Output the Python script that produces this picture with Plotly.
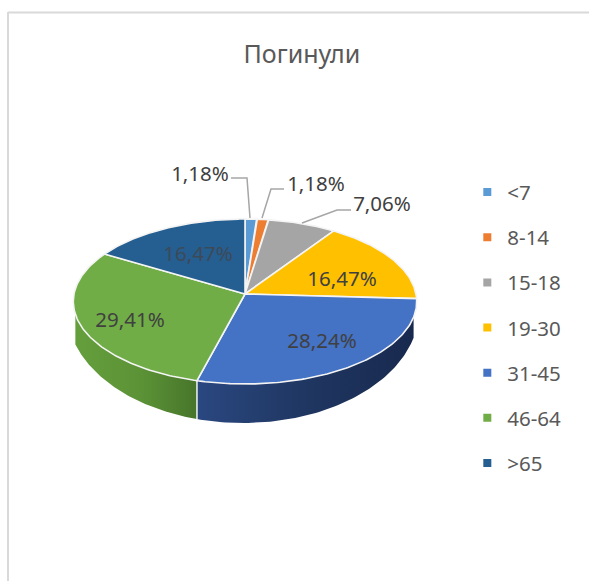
import numpy as np
import plotly.graph_objects as go

# --- data ---
title_text = "Погинули"
categories = ["<7", "8-14", "15-18", "19-30", "31-45", "46-64", ">65"]
percent_values = [1.18, 1.18, 7.06, 16.47, 28.24, 29.41, 16.47]
percent_labels = ["1,18%", "1,18%", "7,06%", "16,47%", "28,24%", "29,41%", "16,47%"]

# --- style ---
colors = ["#5B9BD5", "#ED7D31", "#A5A5A5", "#FFC000", "#4472C4", "#70AD47", "#255E91"]
wall_gradients = {
    4: [[0, "#2A4780"], [0.45, "#203864"], [1, "#18294E"]],
    5: [[0, "#659F3C"], [0.55, "#5B9236"], [1, "#47752A"]],
}
FONT = "Noto Sans"
W, H = 589, 581
CX, CY, A, B, K = 245, 294, 171, 81.8, 0.0909
LOW_CX, LOW_CY, LOW_A, LOW_B = 243, 310, 176, 113
WALL_FROM, WALL_TO = 106, 256
label_xy = [(200, 176), (316, 186), (382, 206), (342, 281), (322, 343), (130, 322), (198, 256)]
label_colors = ["#404040"] * 6 + ["#3C4A58"]
leaders = [
    [(231, 178), (247, 178), (250, 218)],
    [(284, 189), (271, 189), (262, 218)],
    [(351, 210), (337, 210), (302, 223)],
]


def rim(theta_deg):
    t = np.radians(theta_deg)
    u, v = np.sin(t), np.cos(t)
    d = 1 + K * v
    return CX + A * u / d, CY - B * v / d


def lower_y(x):
    r = np.clip((x - LOW_CX) / LOW_A, -1, 1)
    return LOW_CY + LOW_B * np.sqrt(1 - r ** 2)


edges = np.concatenate([[0], np.cumsum(percent_values)]) / sum(percent_values) * 360

fig = go.Figure()

# side walls
for i in range(len(categories)):
    lo, hi = max(edges[i], WALL_FROM), min(edges[i + 1], WALL_TO)
    if lo >= hi or i not in wall_gradients:
        continue
    th = np.linspace(lo, hi, 80)
    x, y = rim(th)
    fig.add_trace(go.Scatter(
        x=np.concatenate([x, x[::-1], x[:1]]),
        y=np.concatenate([y, lower_y(x[::-1]), y[:1]]),
        mode="lines", line=dict(width=0), fill="toself",
        fillgradient=dict(type="horizontal", colorscale=wall_gradients[i]),
        showlegend=False, hoverinfo="skip",
    ))
    # the pale seam between two walls
    if edges[i] > WALL_FROM:
        xs, ys = rim(edges[i])
        fig.add_trace(go.Scatter(x=[xs, xs], y=[ys, lower_y(xs)], mode="lines",
                                 line=dict(color="#F2F2F2", width=1.5),
                                 showlegend=False, hoverinfo="skip"))

# top face
for i in range(len(categories)):
    th = np.linspace(edges[i], edges[i + 1], 120)
    x, y = rim(th)
    fig.add_trace(go.Scatter(
        x=np.concatenate([[CX], x, [CX]]),
        y=np.concatenate([[CY], y, [CY]]),
        mode="lines", fill="toself", fillcolor=colors[i],
        line=dict(color="#F4F4F4", width=1.6),
        showlegend=False, hoverinfo="skip",
    ))

# leader lines
for pts in leaders:
    fig.add_trace(go.Scatter(x=[p[0] for p in pts], y=[p[1] for p in pts], mode="lines",
                             line=dict(color="#A6A6A6", width=1.5),
                             showlegend=False, hoverinfo="skip"))

# data labels
for i, lab in enumerate(percent_labels):
    fig.add_trace(go.Scatter(x=[label_xy[i][0]], y=[label_xy[i][1]], mode="text", text=[lab],
                             textposition="middle center",
                             textfont=dict(family=FONT, size=20.5, color=label_colors[i]),
                             showlegend=False, hoverinfo="skip"))

# legend entries
for i, name in enumerate(categories):
    fig.add_trace(go.Scatter(x=[None], y=[None], mode="markers", name=name, legendgroup=name,
                             marker=dict(symbol="square", size=8, color=colors[i])))

fig.update_layout(
    width=W, height=H,
    margin=dict(l=0, r=0, t=0, b=0),
    paper_bgcolor="white", plot_bgcolor="white",
    title=dict(text=title_text, x=0.5125, xanchor="center", y=0.907, yanchor="middle",
               font=dict(family=FONT, size=25, color="#595959")),
    xaxis=dict(range=[0, W], visible=False, fixedrange=True),
    yaxis=dict(range=[H, 0], visible=False, fixedrange=True),
    legend=dict(x=0.7934, y=0.7035, xanchor="left", yanchor="top", traceorder="grouped",
                tracegroupgap=15.5, itemwidth=30,
                font=dict(family=FONT, size=20.5, color="#595959"),
                bgcolor="rgba(0,0,0,0)"),
    shapes=[
        dict(type="line", xref="paper", yref="paper", x0=8 / W, x1=8 / W, y0=0, y1=1 - 12 / H,
             line=dict(color="#D9D9D9", width=2)),
        dict(type="line", xref="paper", yref="paper", x0=8 / W, x1=1, y0=1 - 12.5 / H, y1=1 - 12.5 / H,
             line=dict(color="#D9D9D9", width=2)),
    ],
)
fig.write_html("out.html", config={"displayModeBar": False},
               post_script="document.body.style.margin='0';")
